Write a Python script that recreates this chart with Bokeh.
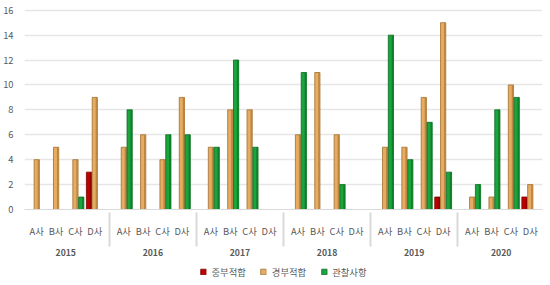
from bokeh.plotting import figure
from bokeh.layouts import column
from bokeh.models import FactorRange, ColumnDataSource, Legend, LegendItem, Range1d, FixedTicker
from bokeh.transform import dodge
from bokeh.embed import file_html
from bokeh.resources import INLINE

years = ["2015", "2016", "2017", "2018", "2019", "2020"]
companies = ["A사", "B사", "C사", "D사"]
series_names = ["중부적합", "경부적합", "관찰사항"]

major = [0, 0, 0, 3,  0, 0, 0, 0,  0, 0, 0, 0,  0, 0, 0, 0,  0, 0, 0, 1,  0, 0, 0, 1]
minor = [4, 5, 4, 9,  5, 6, 4, 9,  5, 8, 8, 0,  6, 11, 6, 0,  5, 5, 9, 15,  1, 1, 10, 2]
obs   = [0, 0, 1, 0,  8, 0, 6, 6,  5, 12, 5, 0,  11, 0, 2, 0,  14, 4, 7, 3,  2, 8, 9, 0]
y_ticks = [0, 2, 4, 6, 8, 10, 12, 14, 16]

factors = [(y, c) for y in years for c in companies]
src = ColumnDataSource(dict(x=factors, major=major, minor=minor, obs=obs))

FONT = "Noto Sans CJK KR"
p = figure(width=550, height=258, output_backend="svg", toolbar_location=None,
           x_range=FactorRange(factors=factors, group_padding=0.5, range_padding=0.01),
           y_range=Range1d(0, 16.3), min_border_top=6, min_border_left=10,
           min_border_right=8, min_border_bottom=0)
p.outline_line_color = None
p.background_fill_color = "white"
p.border_fill_color = "white"

colors = [("#C00000", "#7A0000", "#8E0000"),
          ("#E6AC62", "#A06F2C", "#BE8540"),
          ("#1BA33C", "#0B6A22", "#0F7E2A")]
offs = [-0.3, 0.0, 0.3]
cols = ["major", "minor", "obs"]
for col, (fc, lc, sc), off in zip(cols, colors, offs):
    p.vbar(x=dodge("x", off, range=p.x_range), top=col, width=0.27, source=src,
           fill_color=fc, line_color=lc, line_width=0.8)
    p.vbar(x=dodge("x", off + 0.085, range=p.x_range), top=col, width=0.08, source=src,
           fill_color=sc, line_color=None)

p.yaxis.ticker = FixedTicker(ticks=y_ticks)
p.yaxis.axis_line_color = None
p.yaxis.major_tick_line_color = None
p.yaxis.minor_tick_line_color = None
p.yaxis.major_label_text_font = FONT
p.yaxis.major_label_text_font_size = "7pt"
p.yaxis.major_label_text_color = "#595959"

p.ygrid.ticker = FixedTicker(ticks=y_ticks)
p.ygrid.grid_line_color = "#E6E6E6"
p.ygrid.grid_line_width = 1.5
p.xgrid.grid_line_color = None

p.xaxis.axis_line_color = "#D9D9D9"
p.xaxis.major_tick_line_color = None
p.xaxis.minor_tick_line_color = None
p.xaxis.major_label_text_font = FONT
p.xaxis.major_label_text_font_size = "7pt"
p.xaxis.major_label_text_color = "#595959"
p.xaxis.major_label_standoff = 8
p.xaxis.group_text_font = FONT
p.xaxis.group_text_font_size = "6.5pt"
p.xaxis.group_text_font_style = "bold"
p.xaxis.group_text_color = "#595959"
p.xaxis.separator_line_color = "#D9D9D9"

# legend strip below the chart (its bars lie outside its visible y range)
q = figure(width=550, height=27, output_backend="svg", toolbar_location=None,
           x_range=p.x_range, y_range=Range1d(100, 101), min_border=0)
q.axis.visible = False
q.grid.grid_line_color = None
q.outline_line_color = None
q.border_fill_color = "white"
legend_renderers = []
for col, (fc, lc, sc), off in zip(cols, colors, offs):
    legend_renderers.append(q.vbar(x=dodge("x", off, range=q.x_range), top=col, width=0.27,
                                   source=src, fill_color=fc, line_color=lc, line_width=0.8))
legend = Legend(items=[LegendItem(label=n, renderers=[r]) for n, r in zip(series_names, legend_renderers)],
                orientation="horizontal", location="center")
legend.label_text_font = FONT
legend.label_text_font_size = "7pt"
legend.label_text_color = "#595959"
legend.glyph_width = 7
legend.glyph_height = 7
legend.label_height = 10
legend.spacing = 14
legend.padding = 1
legend.margin = 0
legend.border_line_color = None
legend.background_fill_alpha = 0
q.add_layout(legend, "center")

layout = column(p, q, spacing=0)
open("out.html", "w").write(file_html(layout, INLINE))
